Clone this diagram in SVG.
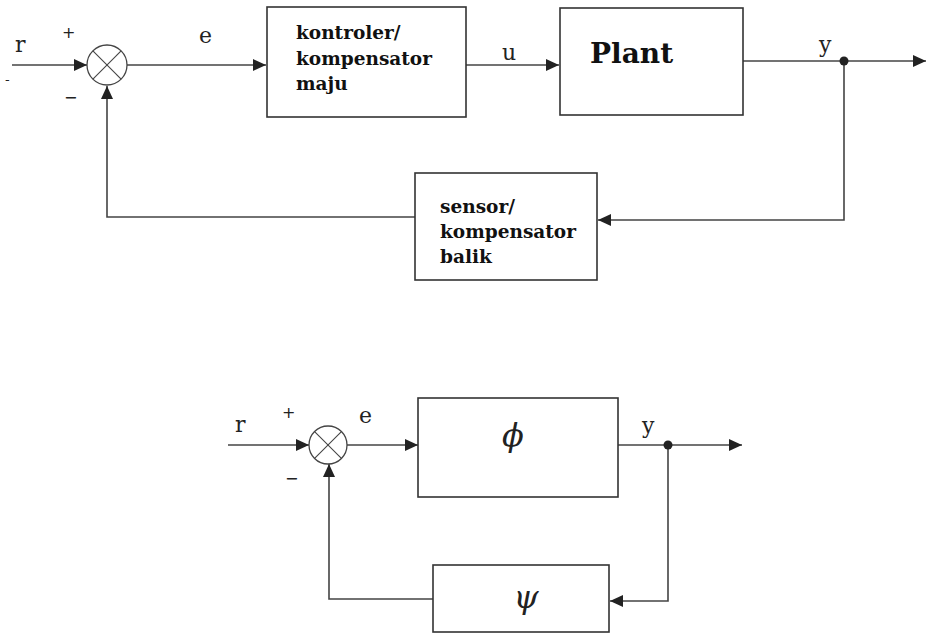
<svg xmlns="http://www.w3.org/2000/svg" width="926" height="634" viewBox="0 0 926 634">
<defs>
<style>
.box{fill:#fff;stroke:#333;stroke-width:1.6}
.ln{fill:none;stroke:#444;stroke-width:1.6}
.sum{fill:#fff;stroke:#444;stroke-width:1.3}
.x{stroke:#444;stroke-width:1.1}
.lbl{font-family:"DejaVu Serif","Liberation Serif",serif;font-size:22px;fill:#222}
.bt{font-family:"DejaVu Serif","Liberation Serif",serif;font-size:18.5px;font-weight:bold;fill:#111}
.sg{font-family:"DejaVu Sans","Liberation Sans",sans-serif;font-size:16px;fill:#222}
.gr{font-family:"DejaVu Serif","Liberation Serif",serif;font-style:italic;font-size:32px;fill:#222}
</style>
<marker id="ah" markerUnits="userSpaceOnUse" markerWidth="13" markerHeight="12" refX="13" refY="6" orient="auto">
<path d="M0,0 L13,6 L0,12 z" fill="#222"/>
</marker>
</defs>
<rect width="926" height="634" fill="#fff"/>

<g id="connectors">
<path class="ln" d="M12,65 H87" marker-end="url(#ah)"/>
<path class="ln" d="M127,65 H266" marker-end="url(#ah)"/>
<path class="ln" d="M466,65 H559" marker-end="url(#ah)"/>
<path class="ln" d="M743,61 H926" marker-end="url(#ah)"/>
<path class="ln" d="M844,61 V220 H598" marker-end="url(#ah)"/>
<path class="ln" d="M415,217 H107 V86" marker-end="url(#ah)"/>
<circle cx="844" cy="61" r="4.5" fill="#222"/>

<path class="ln" d="M228,445 H309" marker-end="url(#ah)"/>
<path class="ln" d="M347,445 H418" marker-end="url(#ah)"/>
<path class="ln" d="M618,445 H742" marker-end="url(#ah)"/>
<path class="ln" d="M668,445 V601 H610" marker-end="url(#ah)"/>
<path class="ln" d="M433,599 H329 V464" marker-end="url(#ah)"/>
<circle cx="668" cy="445" r="4.5" fill="#222"/>
</g>

<g id="sum1">
<circle class="sum" cx="107" cy="65" r="20"/>
<line class="x" x1="92.9" y1="50.9" x2="121.1" y2="79.1"/>
<line class="x" x1="121.1" y1="50.9" x2="92.9" y2="79.1"/>
</g>
<g id="kontroler">
<rect class="box" x="267" y="7" width="199" height="110"/>
<text class="bt" x="296" y="39">kontroler/</text>
<text class="bt" x="296" y="65">kompensator</text>
<text class="bt" x="296" y="90">maju</text>
</g>
<g id="plant">
<rect class="box" x="560" y="8" width="183" height="107"/>
<text class="bt" x="590" y="63" style="font-size:28px">Plant</text>
</g>
<g id="sensor">
<rect class="box" x="415" y="173" width="182" height="107"/>
<text class="bt" x="440" y="213">sensor/</text>
<text class="bt" x="440" y="238">kompensator</text>
<text class="bt" x="440" y="263">balik</text>
</g>
<g id="labels-top">
<text class="lbl" x="15" y="52">r</text>
<text class="sg" x="62" y="38">+</text>
<text class="sg" x="5" y="84" style="font-size:13px">-</text>
<text class="sg" x="64" y="103">−</text>
<text class="lbl" x="199" y="43">e</text>
<text class="lbl" x="502" y="60">u</text>
<text class="lbl" x="819" y="52">y</text>
</g>

<g id="sum2">
<circle class="sum" cx="328" cy="445" r="19"/>
<line class="x" x1="314.6" y1="431.6" x2="341.4" y2="458.4"/>
<line class="x" x1="341.4" y1="431.6" x2="314.6" y2="458.4"/>
</g>
<g id="phi">
<rect class="box" x="418" y="398" width="200" height="99"/>
<text class="gr" x="513" y="446" text-anchor="middle">ϕ</text>
</g>
<g id="psi">
<rect class="box" x="433" y="565" width="176" height="67"/>
<text class="gr" x="526" y="608" text-anchor="middle">ψ</text>
</g>
<g id="labels-bottom">
<text class="lbl" x="235" y="432">r</text>
<text class="sg" x="282" y="418">+</text>
<text class="sg" x="285" y="484">−</text>
<text class="lbl" x="359" y="423">e</text>
<text class="lbl" x="642" y="433">y</text>
</g>
</svg>
